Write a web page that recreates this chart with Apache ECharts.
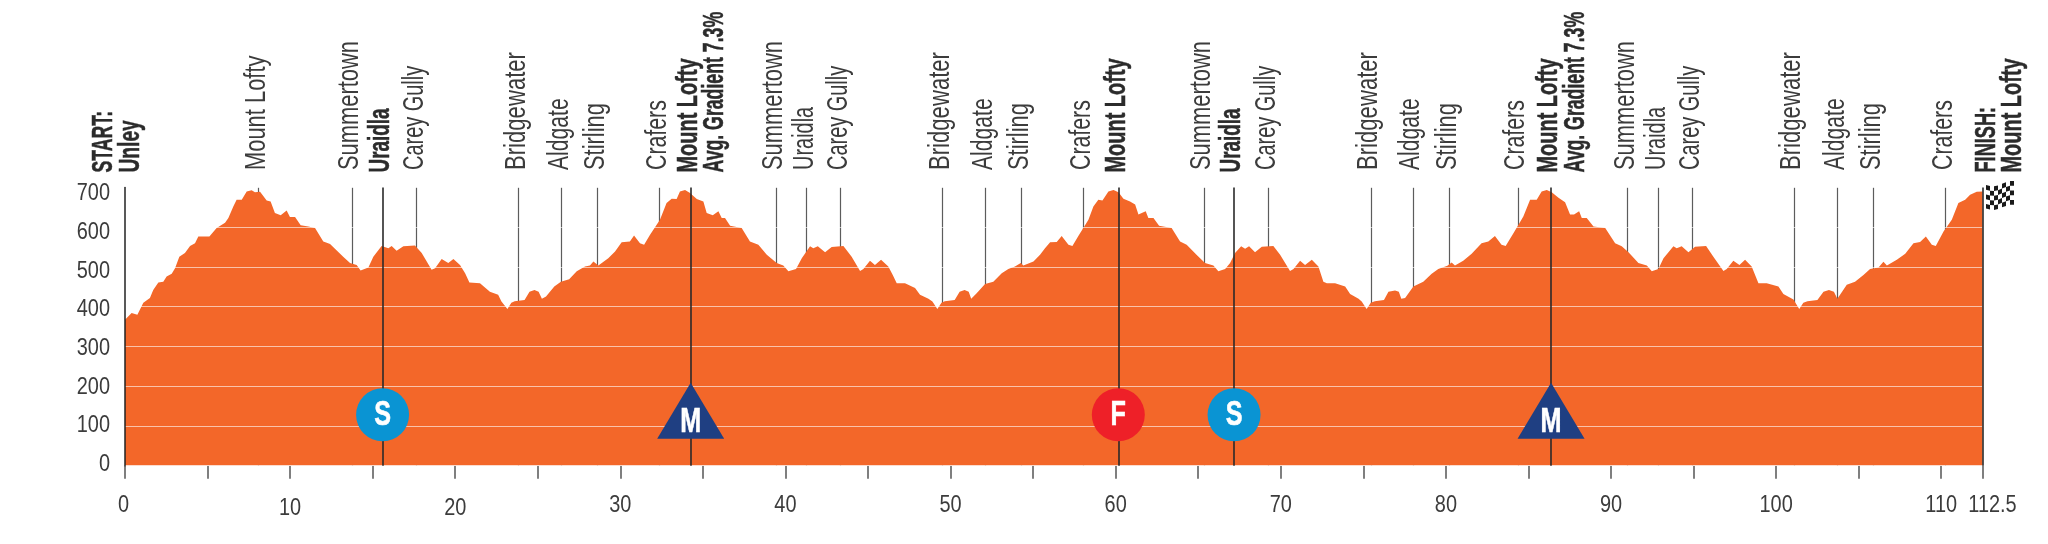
<!DOCTYPE html>
<html><head><meta charset="utf-8">
<style>html,body{margin:0;padding:0;background:#fff}#c{width:2048px;height:544px}</style>
<script src="https://cdn.jsdelivr.net/npm/echarts@6/dist/echarts.min.js"></script>
</head><body><div id="c"></div>
<script>
const profile = [
[0,367],[0.4,384],[0.75,380],[1.11,410],[1.51,422],[1.71,442],[2.02,461],[2.32,463],[2.52,476],[2.83,483],[3.03,497],[3.29,526],[3.63,535],[3.94,553],[4.24,560],[4.44,577],[5.11,577],[5.55,598],[6.06,611],[6.26,623],[6.56,652],[6.76,669],[7.07,669],[7.37,690],[7.67,693],[7.87,688],[8.18,689],[8.58,667],[8.82,665],[9.08,636],[9.43,630],[9.79,642],[9.99,626],[10.3,626],[10.64,605],[11.1,602],[11.51,598],[12.01,564],[12.42,558],[13.23,525],[13.63,510],[14.03,505],[14.27,491],[14.74,499],[15.04,526],[15.54,553],[15.95,547],[16.15,553],[16.45,541],[16.86,552],[17.56,554],[17.97,535],[18.57,493],[18.78,497],[19.18,520],[19.58,510],[19.89,520],[20.29,505],[20.6,484],[20.86,461],[21.5,459],[22.1,438],[22.6,430],[22.8,413],[23.16,394],[23.4,410],[23.6,414],[24.2,417],[24.5,438],[24.8,442],[25.05,438],[25.25,420],[25.5,426],[26.0,451],[26.4,463],[26.9,469],[27.36,489],[27.86,501],[28.16,504],[28.37,514],[28.67,504],[29.27,522],[29.68,539],[30.08,562],[30.58,564],[30.83,579],[31.19,560],[31.44,556],[31.8,581],[32.4,619],[32.8,661],[33.11,672],[33.41,671],[33.61,690],[33.92,694],[34.22,686],[34.63,671],[35.03,665],[35.23,636],[35.6,630],[35.94,640],[36.14,623],[36.34,623],[36.65,604],[37.35,598],[37.85,564],[38.36,556],[38.87,531],[39.47,510],[39.87,504],[40.18,489],[40.64,495],[40.99,522],[41.49,552],[41.69,547],[41.96,552],[42.4,537],[42.8,550],[43.51,553],[44.01,526],[44.52,490],[44.72,495],[45.12,516],[45.42,505],[45.79,518],[46.23,501],[46.5,480],[46.74,459],[47.24,459],[47.85,447],[48.15,430],[48.66,420],[48.9,413],[49.2,394],[49.45,410],[49.65,414],[50.25,417],[50.55,438],[50.85,442],[51.1,438],[51.25,420],[51.58,434],[52.09,457],[52.59,463],[53.1,484],[53.5,495],[53.9,501],[54.25,510],[54.41,504],[55.02,514],[55.42,531],[55.72,547],[56.03,562],[56.43,563],[56.73,578],[57.14,556],[57.38,553],[57.74,578],[58.35,619],[58.65,652],[58.95,669],[59.2,667],[59.56,690],[59.87,694],[60.17,688],[60.47,672],[60.87,665],[61.18,657],[61.38,632],[61.58,636],[61.82,640],[61.98,623],[62.29,623],[62.63,604],[63.39,598],[63.9,564],[64.3,556],[64.91,530],[65.41,510],[65.92,504],[66.22,489],[66.63,495],[66.93,510],[67.23,535],[67.6,552],[67.84,546],[68.08,552],[68.44,537],[68.85,551],[69.55,553],[69.96,531],[70.56,490],[70.77,495],[71.17,516],[71.47,505],[71.88,518],[72.28,501],[72.58,463],[72.79,459],[73.29,459],[73.9,451],[74.2,432],[74.71,420],[74.9,413],[75.2,394],[75.45,410],[75.7,414],[76.25,417],[76.52,438],[76.92,441],[77.15,438],[77.3,420],[77.53,422],[78.03,451],[78.63,463],[79.14,483],[79.54,495],[80.09,503],[80.35,511],[80.55,504],[81.05,516],[81.56,533],[82.16,560],[82.57,564],[82.97,578],[83.37,556],[83.62,553],[84.09,585],[84.69,627],[85.1,669],[85.5,669],[85.8,690],[86.11,694],[86.41,688],[86.82,674],[87.22,663],[87.52,632],[87.76,632],[88.07,640],[88.23,623],[88.53,623],[88.94,602],[89.65,598],[90.25,560],[90.65,552],[91.06,537],[91.66,510],[92.17,504],[92.47,489],[92.87,495],[93.18,522],[93.78,552],[93.98,547],[94.28,552],[94.69,537],[95.09,551],[95.76,553],[96.2,526],[96.81,490],[97.01,495],[97.41,516],[97.78,505],[98.12,518],[98.52,501],[98.93,459],[99.43,459],[100.14,451],[100.44,432],[101.05,418],[101.15,413],[101.4,394],[101.65,410],[101.9,414],[102.5,417],[102.87,438],[103.2,442],[103.5,438],[103.71,420],[104.28,455],[104.78,463],[105.29,480],[105.69,495],[106.2,499],[106.5,513],[106.71,504],[107.31,518],[107.82,533],[108.32,560],[108.72,563],[109.07,577],[109.43,556],[109.67,553],[110.14,589],[110.64,619],[111.04,661],[111.45,669],[111.75,682],[112.15,689],[112.5,690]
];
const placeKm = [8.1,13.75,15.6,17.64,23.82,26.45,28.63,32.36,34.26,39.43,41.29,43.33,49.5,52.11,54.31,58.04,60.16,65.35,67.17,69.27,75.45,78.01,80.21,84.37,86.37,91.0,92.87,94.93,101.09,103.73,105.89,110.25];
const placeNames = ['Mount Lofty','Summertown','Uraidla','Carey Gully','Bridgewater','Aldgate','Stirling','Crafers','Mount Lofty\nAvg. Gradient 7.3%','Summertown','Uraidla','Carey Gully','Bridgewater','Aldgate','Stirling','Crafers','Mount Lofty','Summertown','Uraidla','Carey Gully','Bridgewater','Aldgate','Stirling','Crafers','Mount Lofty\nAvg. Gradient 7.3%','Summertown','Uraidla','Carey Gully','Bridgewater','Aldgate','Stirling','Crafers'];
const boldKm = [15.6,34.26,60.16,67.17,86.37];
const startName = 'START:\nUnley';
const finishName = 'FINISH:\nMount Lofty';
const stageKm = [15.6,34.26,60.16,67.17,86.37];
const stageCodes = ['S','M','F','S','M'];
const xMax = 112.5;
const xLabels = [0,10,20,30,40,50,60,70,80,90,100,110,112.5];
const yLabels = [0,100,200,300,400,500,600,700];

const FONT = '"Liberation Sans",Arial,sans-serif';
const LH = 26.5;
const boldFit = {'START:':.59,'Unley':.64,'Uraidla':.63,'FINISH:':.605,'Avg. Gradient 7.3%':.59,'Mount Lofty':.665};
const regularFit = {'Mount Lofty':.73,'Summertown':.73,'Uraidla':.665,'Carey Gully':.665,'Bridgewater':.737,'Aldgate':.705,'Stirling':.73,'Crafers':.71};
const texts = [];
const addPlace = (km,name,bold,shift) => name.split('\n').forEach((line,i)=>texts.push({
  km, m:700, text:line, dx:shift+i*LH, dy:bold?-15:-17.5, rot:Math.PI/2, sx:bold?boldFit[line]:regularFit[line],
  size:30, weight:bold?'bold':'normal', color:bold?'#2b2b2b':'#3c3c3c', align:'left', stroke:bold?0.5:0
}));
placeKm.forEach((km,i)=>addPlace(km,placeNames[i],boldKm.includes(km),-2));
addPlace(0,startName,true,-21);
addPlace(xMax,finishName,true,4);
xLabels.forEach(v=>texts.push({km:v,m:0,text:String(v),dx:v===xMax?10:(v===0?-1.5:0),dy:(v===10||v===20)?42.5:39.5,rot:0,sx:.83,size:24,weight:'normal',color:'#3c3c3c',align:'center',stroke:0}));
yLabels.forEach(v=>texts.push({km:0,m:v,text:String(v),dx:-15,dy:-1.2+7.5*v/700,rot:0,sx:.83,size:24,weight:'normal',color:'#3c3c3c',align:'right',stroke:0}));

const stageStyle = {S:{symbol:'circle',size:53,color:'#0A94D3',m:128,dy:0},F:{symbol:'circle',size:53,color:'#EE2028',m:128,dy:0},M:{symbol:'triangle',size:[67,56],color:'#1F3F82',m:138,dy:10}};
const stages = stageKm.map((km,i)=>{const s=stageStyle[stageCodes[i]];
  texts.push({km,m:s.m,text:stageCodes[i],dx:0,dy:s.dy+1,rot:0,sx:.72,size:35,weight:'bold',color:'#fff',align:'center',stroke:0.6});
  return {value:[km,s.m],symbol:s.symbol,symbolSize:s.size,itemStyle:{color:s.color,opacity:1}};
});
const vline = (kms,w,c,z)=>({silent:true,z,symbol:'none',animation:false,label:{show:false},lineStyle:{color:c,width:w,type:'solid',opacity:1},data:kms.map(k=>({xAxis:k}))});
const thinKm = placeKm.filter(k=>!boldKm.includes(k));

const flagCells=[];
for(let r=0;r<5;r++)for(let c=0;c<7;c++)if((r+c)%2===0){
  const off=[3.2,4,4.3,3.6,2.2,1,0,0];
  const x=c*4, y0=r*3.8+off[c], y1=r*3.8+off[c+1];
  flagCells.push(`M${x} ${y0}L${x+4} ${y1}L${x+4} ${y1+3.8}L${x} ${y0+3.8}Z`);
}
const flagPath='path://'+flagCells.join('');

const chart = echarts.init(document.getElementById('c'),null,{renderer:'canvas'});
chart.setOption({
  animation:false,
  backgroundColor:'#fff',
  grid:{left:125,right:65.5,top:187.5,bottom:78.3},
  xAxis:{type:'value',min:0,max:xMax,interval:5,offset:3.5,
    axisLine:{show:false},
    axisTick:{show:true,length:13,lineStyle:{color:'#555',width:1.5}},
    splitLine:{show:false},
    axisLabel:{show:false}},
  yAxis:{type:'value',min:0,max:700,interval:100,z:2.5,
    axisLine:{show:true,lineStyle:{color:'#222',width:1.5}},
    axisTick:{show:false},
    splitLine:{show:true,lineStyle:{color:'rgba(255,255,255,0.6)',width:1.2}},
    axisLabel:{show:false}},
  series:[
    {type:'scatter',name:'thin',z:1,data:[],symbolSize:0,markLine:vline(thinKm,1.2,'#5c5c5c',1)},
    {type:'line',name:'profile',z:2,data:profile,showSymbol:false,symbol:'none',smooth:false,lineStyle:{width:0},areaStyle:{color:'#F36729',opacity:1}},
    {type:'scatter',name:'bold',z:3,data:[],symbolSize:0,markLine:vline([...boldKm,xMax],1.6,'#2a2a2a',3)},
    {type:'scatter',name:'stages',z:5,data:stages,silent:true},
    {type:'scatter',name:'flag',z:5,data:[[xMax,695]],symbol:flagPath,symbolSize:[28,29],symbolOffset:[17.5,6],itemStyle:{color:'#1a1a1a',opacity:1},silent:true,clip:false},
    {type:'custom',name:'texts',z:6,silent:true,clip:false,data:texts.map(t=>[t.km,t.m]),encode:{x:0,y:1},
      renderItem:(p,api)=>{const t=texts[p.dataIndex];const c=api.coord([t.km,t.m]);
        return {type:'text',x:c[0]+t.dx,y:c[1]+t.dy,rotation:t.rot,scaleX:t.sx,
          style:{text:t.text,fill:t.color,stroke:t.stroke?t.color:null,lineWidth:t.stroke,font:`${t.weight} ${t.size}px ${FONT}`,align:t.align,verticalAlign:'middle',textAlign:t.align,textVerticalAlign:'middle'}};}}
  ]
});
</script></body></html>
